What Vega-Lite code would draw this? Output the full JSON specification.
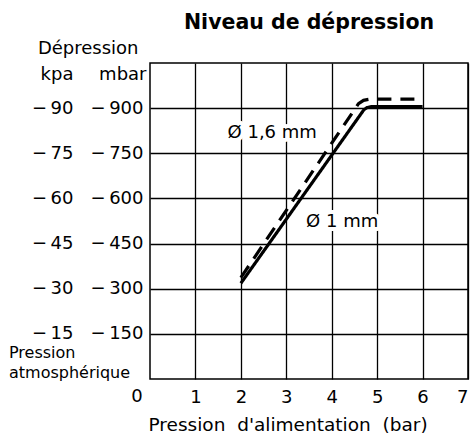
{
  "$schema": "https://vega.github.io/schema/vega-lite/v6.json",
  "width": 318,
  "height": 316,
  "autosize": {"type": "none"},
  "padding": {"left": 150, "top": 63, "right": 3, "bottom": 57},
  "background": "white",
  "config": {
    "font": "DejaVu Sans",
    "view": {"stroke": "black", "strokeWidth": 1.5},
    "axis": {"labelColor": "black", "titleColor": "black", "labelFontSize": 18, "titleFontSize": 18, "titleFontWeight": "normal", "domain": false, "ticks": false, "gridColor": "black", "gridOpacity": 1, "gridWidth": 1.3},
    "title": {"color": "black"}
  },
  "title": {"text": "Niveau de dépression", "fontSize": 20.5, "fontWeight": "bold", "anchor": "middle", "frame": "group", "offset": 6},
  "datasets": {
    "lines": [
      {"d": "1 mm", "x": 2, "y": 318},
      {"d": "1 mm", "x": 4.71, "y": 895},
      {"d": "1 mm", "x": 4.78, "y": 902},
      {"d": "1 mm", "x": 4.87, "y": 905},
      {"d": "1 mm", "x": 6, "y": 905},
      {"d": "1,6 mm", "x": 2, "y": 337},
      {"d": "1,6 mm", "x": 4.59, "y": 915},
      {"d": "1,6 mm", "x": 4.7, "y": 926},
      {"d": "1,6 mm", "x": 4.85, "y": 930},
      {"d": "1,6 mm", "x": 6, "y": 930}
    ],
    "labels": [
      {"x": 2.69, "y": 818, "t": "Ø 1,6 mm"},
      {"x": 4.23, "y": 521, "t": "Ø 1 mm"}
    ],
    "atm": [{"x": 0, "y": 0, "t": "Pression\natmosphérique"}],
    "zero": [{"x": 0, "y": 0, "t": "0"}]
  },
  "encoding": {
    "x": {
      "field": "x", "type": "quantitative",
      "scale": {"domain": [0, 7], "nice": false, "zero": false},
      "axis": {
        "values": [1, 2, 3, 4, 5, 6, 7],
        "grid": true,
        "labelPadding": 9,
        "title": "Pression\u00a0 d'alimentation\u00a0 (bar)",
        "titleFontSize": 18.5,
        "titleAnchor": "start", "titleAlign": "left", "titleBaseline": "alphabetic",
        "titleX": -2, "titleY": 51
      }
    }
  },
  "layer": [
    {
      "data": {"name": "lines"},
      "mark": {"type": "line", "color": "black", "strokeWidth": 3.2, "strokeCap": "butt"},
      "encoding": {
        "y": {
          "field": "y", "type": "quantitative",
          "scale": {"domain": [0, 1050], "nice": false},
          "axis": {
            "orient": "left",
            "values": [150, 300, 450, 600, 750, 900],
            "labelExpr": "'\u2212\u2009' + datum.value",
            "grid": true,
            "labelPadding": 7,
            "title": "mbar", "titleAngle": 0, "titleAlign": "right", "titleBaseline": "alphabetic",
            "titleX": -4, "titleY": 16
          }
        },
        "detail": {"field": "d"},
        "strokeDash": {"field": "d", "type": "nominal", "scale": {"domain": ["1 mm", "1,6 mm"], "range": [[1, 0], [14, 9]]}, "legend": null}
      }
    },
    {
      "data": {"name": "labels"},
      "mark": {"type": "text", "fontSize": 18, "fill": "white", "stroke": "white", "strokeWidth": 8, "strokeJoin": "round"},
      "encoding": {
        "y": {
          "field": "y", "type": "quantitative",
          "axis": {
            "orient": "left", "offset": 77,
            "values": [150, 300, 450, 600, 750, 900],
            "labelExpr": "'\u2212\u2009' + (datum.value / 10)",
            "grid": false,
            "labelPadding": 0,
            "title": "kpa", "titleAngle": 0, "titleAlign": "right", "titleBaseline": "alphabetic",
            "titleX": 0, "titleY": 16
          }
        },
        "text": {"field": "t"}
      }
    },
    {
      "data": {"name": "labels"},
      "mark": {"type": "text", "fontSize": 18, "color": "black"},
      "encoding": {
        "y": {
          "field": "y", "type": "quantitative",
          "axis": {
            "orient": "left", "offset": 12,
            "labels": false, "grid": false,
            "title": "Dépression", "titleAngle": 0, "titleAlign": "right", "titleBaseline": "alphabetic",
            "titleX": 0, "titleY": -10
          }
        },
        "text": {"field": "t"}
      }
    },
    {
      "data": {"name": "atm"},
      "mark": {"type": "text", "fontSize": 16, "color": "black", "align": "left", "baseline": "alphabetic", "dx": -141, "dy": -21.5, "lineBreak": "\n", "lineHeight": 20.7},
      "encoding": {
        "y": {"field": "y", "type": "quantitative", "axis": null},
        "text": {"field": "t"}
      }
    },
    {
      "data": {"name": "zero"},
      "mark": {"type": "text", "fontSize": 18, "color": "black", "align": "center", "baseline": "alphabetic", "dx": -13, "dy": 23},
      "encoding": {
        "y": {"field": "y", "type": "quantitative", "axis": null},
        "text": {"field": "t"}
      }
    }
  ],
  "resolve": {"axis": {"y": "independent"}}
}
